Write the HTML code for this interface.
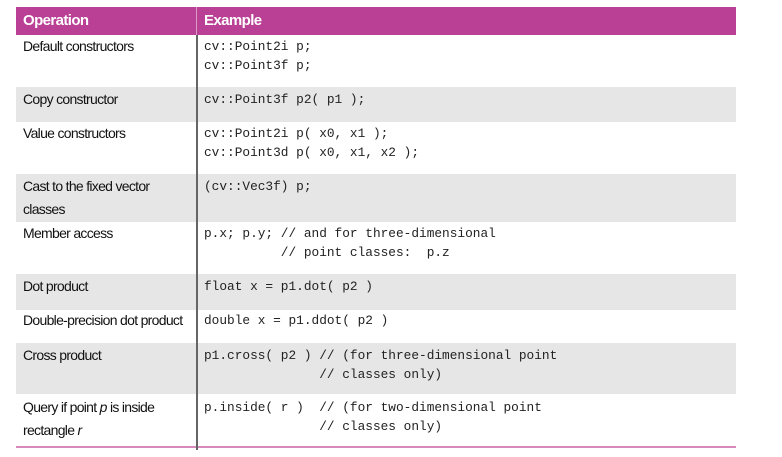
<!DOCTYPE html>
<html><head><style>
body{margin:0;width:782px;height:457px;background:#fff;position:relative;overflow:hidden}
.r{position:absolute;left:16px;width:720px}
.g{background:#e6e6e6}
.l{position:absolute;left:23px;font-family:"Liberation Sans Narrow","Liberation Sans",sans-serif;font-size:14px;letter-spacing:-0.7px;line-height:23px;color:#111}
.c{position:absolute;left:204px;font-family:"Liberation Mono",monospace;font-size:12.8px;line-height:19px;white-space:pre;color:#222}
.h{position:absolute;top:7px;height:28px;left:16px;width:720px;background:#b94095}
.ht{position:absolute;top:12px;color:#fff;font-weight:bold;font-family:"Liberation Sans Narrow","Liberation Sans",sans-serif;font-size:15px;letter-spacing:-0.6px}
.div{position:absolute;left:196px;width:2px;top:35px;height:415px;background:#666}
</style></head><body>
<div class="h"></div>
<div style="position:absolute;left:196px;top:7px;width:1px;height:28px;background:#d99ac5"></div>
<div class="ht" style="left:23px">Operation</div>
<div class="ht" style="left:204px">Example</div>
<div class="r g" style="top:87px;height:35px"></div>
<div class="r g" style="top:174px;height:48px"></div>
<div class="r g" style="top:274px;height:36px"></div>
<div class="r g" style="top:343px;height:51px"></div>
<div style="position:absolute;left:16px;width:720px;top:446px;height:2px;background:#d58ab9"></div>
<div class="div"></div>

<div class="l" style="top:35px">Default constructors</div>
<div class="c" style="top:37px">cv::Point2i p;
cv::Point3f p;</div>
<div class="l" style="top:88px">Copy constructor</div>
<div class="c" style="top:90px">cv::Point3f p2( p1 );</div>
<div class="l" style="top:122px">Value constructors</div>
<div class="c" style="top:124px">cv::Point2i p( x0, x1 );
cv::Point3d p( x0, x1, x2 );</div>
<div class="l" style="top:175px">Cast to the fixed vector<br>classes</div>
<div class="c" style="top:177px">(cv::Vec3f) p;</div>
<div class="l" style="top:222px">Member access</div>
<div class="c" style="top:224px">p.x; p.y; // and for three-dimensional
          // point classes:  p.z</div>
<div class="l" style="top:275px">Dot product</div>
<div class="c" style="top:277px">float x = p1.dot( p2 )</div>
<div class="l" style="top:309px">Double-precision dot product</div>
<div class="c" style="top:311px">double x = p1.ddot( p2 )</div>
<div class="l" style="top:344px">Cross product</div>
<div class="c" style="top:346px">p1.cross( p2 ) // (for three-dimensional point
               // classes only)</div>
<div class="l" style="top:396px">Query if point <i>p</i> is inside<br>rectangle <i>r</i></div>
<div class="c" style="top:398px">p.inside( r )  // (for two-dimensional point
               // classes only)</div>
</body></html>
